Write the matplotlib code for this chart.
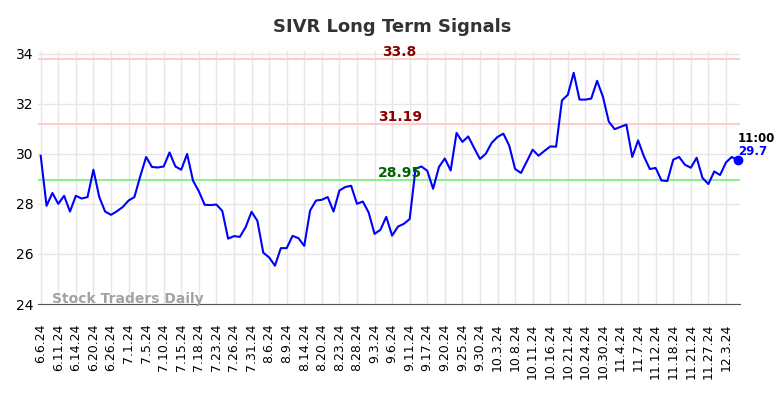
import matplotlib
matplotlib.use("Agg")
import matplotlib.pyplot as plt
import numpy as np

tick_labels = ["6.6.24", "6.11.24", "6.14.24", "6.20.24", "6.26.24", "7.1.24", "7.5.24",
               "7.10.24", "7.15.24", "7.18.24", "7.23.24", "7.26.24", "7.31.24", "8.6.24",
               "8.9.24", "8.14.24", "8.20.24", "8.23.24", "8.28.24", "9.3.24", "9.6.24",
               "9.11.24", "9.17.24", "9.20.24", "9.25.24", "9.30.24", "10.3.24", "10.8.24",
               "10.11.24", "10.16.24", "10.21.24", "10.24.24", "10.30.24", "11.4.24",
               "11.7.24", "11.12.24", "11.18.24", "11.21.24", "11.27.24", "12.3.24"]

prices = [29.92, 27.92, 28.43, 28.0, 28.32, 27.69, 28.32, 28.21, 28.27, 29.36,
          28.27, 27.69, 27.56, 27.7, 27.87, 28.13, 28.27, 29.1, 29.87, 29.47,
          29.45, 29.49, 30.05, 29.49, 29.36, 29.99, 28.93, 28.5, 27.96, 27.95,
          27.97, 27.72, 26.61, 26.71, 26.68, 27.07, 27.68, 27.32, 26.05, 25.86,
          25.53, 26.23, 26.23, 26.72, 26.63, 26.32, 27.73, 28.13, 28.16, 28.27,
          27.69, 28.53, 28.67, 28.72, 28.0, 28.09, 27.65, 26.8, 26.96, 27.48,
          26.73, 27.09, 27.2, 27.39, 29.4, 29.49, 29.32, 28.6, 29.47, 29.81,
          29.33, 30.83, 30.47, 30.69, 30.23, 29.79, 30.0, 30.43, 30.67, 30.8,
          30.32, 29.39, 29.23, 29.69, 30.16, 29.92, 30.11, 30.29, 30.28, 32.13,
          32.35, 33.23, 32.16, 32.16, 32.2, 32.91, 32.27, 31.28, 30.98, 31.07,
          31.16, 29.87, 30.53, 29.89, 29.39, 29.43, 28.93, 28.91, 29.76, 29.87,
          29.56, 29.44, 29.84, 29.03, 28.79, 29.29, 29.15, 29.65, 29.87, 29.73]

resistance_high = 33.8
resistance_low = 31.19
support = 28.95
last_time = "11:00"
last_label = "29.7"

fig = plt.figure(figsize=(7.84, 3.98), dpi=100)
ax = fig.add_axes([38/784, 1 - 304/398, (740-38)/784, (304-51)/398])

x = np.arange(len(prices))
ax.plot(x, prices, color="blue", lw=1.5, zorder=3)
ax.plot(x[-1], prices[-1], "o", color="blue", ms=6, zorder=4, clip_on=False)

ax.axhline(resistance_high, color="#ffcccc", lw=1.5, zorder=2)
ax.axhline(resistance_low, color="#ffcccc", lw=1.5, zorder=2)
ax.axhline(support, color="#90ee90", lw=1.5, zorder=2)

xmid = 61.3
ax.text(xmid, resistance_high + 0.12, "33.8", color="#8b0000", fontsize=10,
        fontweight="bold", ha="center", va="baseline")
ax.text(xmid, resistance_low + 0.12, "31.19", color="#8b0000", fontsize=10,
        fontweight="bold", ha="center", va="baseline")
ax.text(xmid, support + 0.12, "28.95", color="#006400", fontsize=10,
        fontweight="bold", ha="center", va="baseline")

ax.text(x[-1], prices[-1] + 0.6, last_time, color="black", fontsize=8.5,
        fontweight="bold", ha="left", va="bottom")
ax.text(x[-1], prices[-1] + 0.1, last_label, color="blue", fontsize=8.5,
        fontweight="bold", ha="left", va="bottom")

ax.text(2, 23.93, "Stock Traders Daily", color="#999999", fontsize=10,
        fontweight="bold", ha="left", va="bottom", alpha=0.9)

tick_pos = np.arange(0, len(prices), 3)[:len(tick_labels)]
ax.set_xticks(tick_pos)
ax.set_xticklabels(tick_labels, rotation=90, fontsize=9)
ax.set_yticks([24, 26, 28, 30, 32, 34])
ax.tick_params(axis="y", labelsize=10, length=0)
ax.tick_params(axis="x", length=0, pad=14)

ax.set_xlim(-0.46, 119.4)
ax.set_ylim(24, 34.1)
ax.grid(True, color="#e6e6e6", lw=1)
ax.set_axisbelow(True)
for s in ["left", "right", "top"]:
    ax.spines[s].set_visible(False)
ax.spines["bottom"].set_color("#555555")

fig.suptitle("SIVR Long Term Signals", fontsize=13, fontweight="bold",
             color="#333333", y=0.955)

fig.savefig("out.png", dpi=100)
